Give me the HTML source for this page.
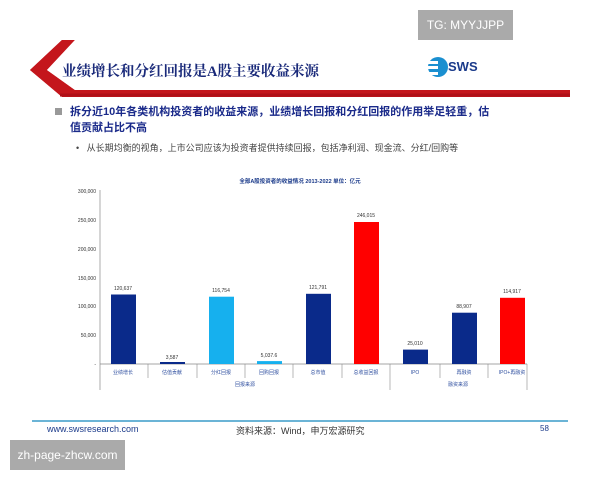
<!DOCTYPE html><html><head><meta charset="utf-8"><style>
body{margin:0;width:600px;height:480px;background:#fff;position:relative;overflow:hidden;font-family:"Liberation Sans","Noto Sans CJK SC",sans-serif}
.a{position:absolute;white-space:nowrap}
</style></head><body>
<svg class="a" style="left:0;top:0" width="600" height="480">
<polygon points="30,70 62,40 75,40 47,70 75,90 570,90 570,97 62,97" fill="#c4161c"/>
<polygon points="75,40 470,40 440,90 75,90 47,70" fill="#fff"/>
<polygon points="30,70 62,40 72,40 45,70 72,92 60,95" fill="#c4161c"/>
<line x1="60" y1="95" x2="570" y2="95" stroke="#b01018" stroke-width="3"/>
<circle cx="438" cy="67" r="10" fill="#1a8fd0"/>
<rect x="428" y="61" width="10" height="3" fill="#fff"/><rect x="428" y="66" width="10" height="3" fill="#fff"/><rect x="428" y="72" width="10" height="3" fill="#fff"/>
<line x1="32" y1="421" x2="568" y2="421" stroke="#3a9bc8" stroke-width="1.5"/>
<g font-size="5" fill="#333" text-anchor="end">
<text x="96" y="193">300,000</text><text x="96" y="222">250,000</text><text x="96" y="251">200,000</text><text x="96" y="280">150,000</text><text x="96" y="308">100,000</text><text x="96" y="337">50,000</text><text x="96" y="366">-</text></g>
<line x1="100" y1="190" x2="100" y2="390" stroke="#888" stroke-width="0.7"/>
<line x1="100" y1="364" x2="527" y2="364" stroke="#888" stroke-width="0.7"/>
<g stroke="#888" stroke-width="0.6"><line x1="148" y1="364" x2="148" y2="378"/><line x1="197" y1="364" x2="197" y2="378"/><line x1="245" y1="364" x2="245" y2="378"/><line x1="293" y1="364" x2="293" y2="378"/><line x1="342" y1="364" x2="342" y2="378"/><line x1="390" y1="364" x2="390" y2="390"/><line x1="440" y1="364" x2="440" y2="378"/><line x1="488" y1="364" x2="488" y2="378"/><line x1="527" y1="364" x2="527" y2="390"/></g>
<g>
<rect x="111" y="294.5" width="25" height="69.5" fill="#0a2a8a"/>
<rect x="160" y="362" width="25" height="2" fill="#0a2a8a"/>
<rect x="209" y="296.7" width="25" height="67.3" fill="#16b0ee"/>
<rect x="257" y="361.1" width="25" height="2.9" fill="#16b0ee"/>
<rect x="306" y="293.8" width="25" height="70.2" fill="#0a2a8a"/>
<rect x="354" y="222" width="25" height="142" fill="#ff0000"/>
<rect x="403" y="349.6" width="25" height="14.4" fill="#0a2a8a"/>
<rect x="452" y="312.7" width="25" height="51.3" fill="#0a2a8a"/>
<rect x="500" y="297.8" width="25" height="66.2" fill="#ff0000"/>
</g>
<g font-size="5" fill="#333" text-anchor="middle">
<text x="123" y="290">120,637</text><text x="172" y="359">3,587</text><text x="221" y="292">116,754</text><text x="269" y="357">5,037.6</text><text x="318" y="289">121,791</text><text x="366" y="217">246,015</text><text x="415" y="345">25,010</text><text x="464" y="308">88,907</text><text x="512" y="293">114,917</text>
<g fill="#3050a0"><text x="123" y="374">业绩增长</text><text x="172" y="374">估值贡献</text><text x="221" y="374">分红回报</text><text x="269" y="374">回购回报</text><text x="318" y="374">总市值</text><text x="366" y="374">总收益回报</text><text x="415" y="374">IPO</text><text x="464" y="374">再融资</text><text x="512" y="374">IPO+再融资</text><text x="245" y="386">回报来源</text><text x="458" y="386">融资来源</text></g>
<text x="300" y="183" font-weight="bold" fill="#1a3a8a" font-size="5.5">全部A股投资者的收益情况 2013-2022 单位：亿元</text></g>
</svg>
<div class="a" style="left:62px;top:60px;font-size:14.5px;font-weight:bold;color:#1a2a7a;font-family:'Liberation Serif','Noto Serif CJK SC',serif">业绩增长和分红回报是A股主要收益来源</div>
<div class="a" style="left:448px;top:59px;font-size:13px;font-weight:bold;color:#1a3a8a">SWS</div>
<div class="a" style="left:55px;top:108px;width:7px;height:7px;background:#999"></div>
<div class="a" style="left:70px;top:104px;font-size:11px;font-weight:bold;color:#1a2a8a;line-height:16px;white-space:normal;width:425px">拆分近10年各类机构投资者的收益来源，业绩增长回报和分红回报的作用举足轻重，估值贡献占比不高</div>
<div class="a" style="left:76px;top:141px;font-size:9px;color:#444">•&nbsp;&nbsp;&nbsp;从长期均衡的视角，上市公司应该为投资者提供持续回报，包括净利润、现金流、分红/回购等</div>
<div class="a" style="left:47px;top:424px;font-size:9px;color:#1a3a8a">www.swsresearch.com</div>
<div class="a" style="left:236px;top:424px;font-size:9px;color:#333">资料来源：Wind，申万宏源研究</div>
<div class="a" style="left:540px;top:424px;font-size:8px;color:#1a3a8a">58</div>
<div class="a" style="left:418px;top:10px;width:95px;height:30px;background:#aaa;color:#fff;font-size:12px;line-height:30px;text-align:center">TG: MYYJJPP</div>
<div class="a" style="left:10px;top:440px;width:115px;height:30px;background:#aaa;color:#fff;font-size:12px;line-height:30px;text-align:center">zh-page-zhcw.com</div>
</body></html>
